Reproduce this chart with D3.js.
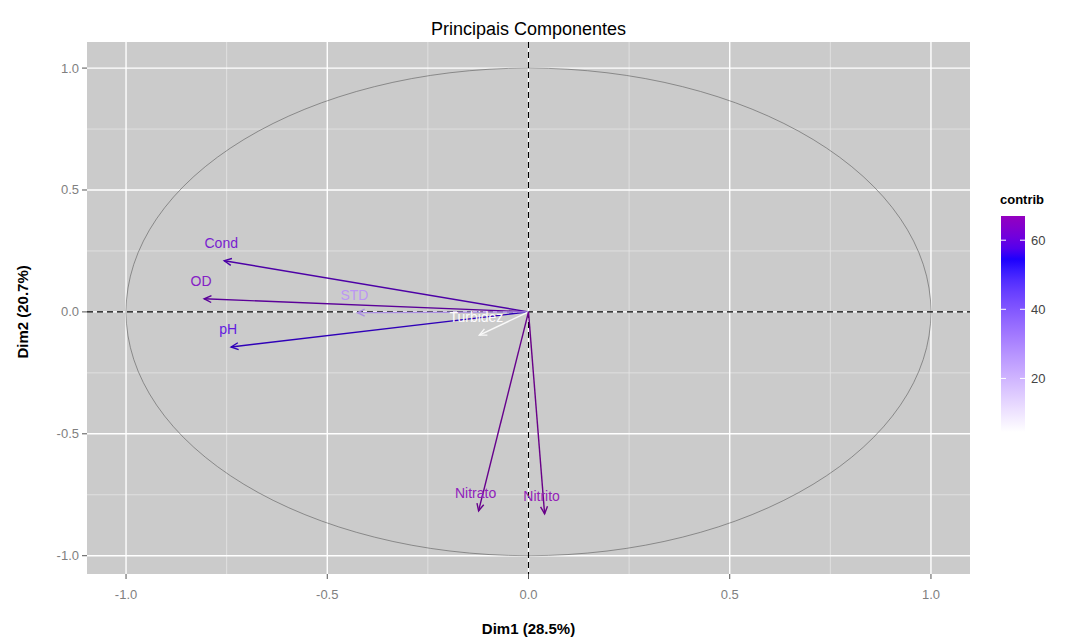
<!DOCTYPE html>
<html>
<head>
<meta charset="utf-8">
<script src="https://cdn.jsdelivr.net/npm/d3@7"></script>
<style>
  body { margin: 0; background: #fff; }
  svg { font-family: "Liberation Sans", Arial, sans-serif; }
</style>
</head>
<body>
<div id="chart"></div>
<script>
const WIDTH = 1080;
const HEIGHT = 641;

// --------------- Data ---------------
const variables = ["Cond", "OD", "pH", "STD", "Turbidez", "Nitrato", "Nitrito"];
const dim1 = [-0.756, -0.806, -0.739, -0.425, -0.122, -0.124, 0.040];
const dim2 = [0.210, 0.054, -0.144, -0.003, -0.095, -0.816, -0.828];
const contrib = [60, 63, 56, 24, 4.5, 66, 67];
const axisTicks = [-1.0, -0.5, 0.0, 0.5, 1.0];
const minorTicks = [-0.75, -0.25, 0.25, 0.75];
const legendTicks = [20, 40, 60];

const CONTRIB_RANGE = [4.5, 67];
const CONTRIB_MID = 54;

// --------------- Scales ---------------
const x = d3.scaleLinear().domain([-1.097, 1.097]).range([87, 970]);
const y = d3.scaleLinear().domain([-1.075, 1.107]).range([574, 42]);

// white -> blue -> red, diverging around the midpoint (Lab space, like ggplot)
const maxDist = Math.max(CONTRIB_MID - CONTRIB_RANGE[0], CONTRIB_RANGE[1] - CONTRIB_MID);
const color = d3.scaleLinear()
  .domain([CONTRIB_MID - maxDist, CONTRIB_MID, CONTRIB_MID + maxDist])
  .range(["white", "blue", "red"])
  .interpolate(d3.interpolateLab);

const svg = d3.select("#chart").append("svg")
  .attr("width", WIDTH)
  .attr("height", HEIGHT);

svg.append("rect").attr("width", WIDTH).attr("height", HEIGHT).attr("fill", "#fff");

// --------------- Panel ---------------
const [px0, px1] = x.range();
const [py1, py0] = y.range();

svg.append("rect")
  .attr("x", px0).attr("y", py0)
  .attr("width", px1 - px0).attr("height", py1 - py0)
  .attr("fill", "#cbcbcb");

const grid = svg.append("g");
minorTicks.forEach(t => {
  grid.append("line").attr("x1", x(t)).attr("x2", x(t)).attr("y1", py0).attr("y2", py1)
    .attr("stroke", "#e4e4e4").attr("stroke-width", 0.8);
  grid.append("line").attr("x1", px0).attr("x2", px1).attr("y1", y(t)).attr("y2", y(t))
    .attr("stroke", "#e4e4e4").attr("stroke-width", 0.8);
});
axisTicks.forEach(t => {
  grid.append("line").attr("x1", x(t)).attr("x2", x(t)).attr("y1", py0).attr("y2", py1)
    .attr("stroke", "#fff").attr("stroke-width", 1.4);
  grid.append("line").attr("x1", px0).attr("x2", px1).attr("y1", y(t)).attr("y2", y(t))
    .attr("stroke", "#fff").attr("stroke-width", 1.4);
});

// correlation circle
svg.append("ellipse")
  .attr("cx", x(0)).attr("cy", y(0))
  .attr("rx", x(1) - x(0)).attr("ry", y(0) - y(1))
  .attr("fill", "none").attr("stroke", "#5a5a5a").attr("stroke-width", 0.6);

// dashed reference lines
svg.append("line").attr("x1", x(0)).attr("x2", x(0)).attr("y1", py0).attr("y2", py1)
  .attr("stroke", "#000").attr("stroke-width", 1.1).attr("stroke-dasharray", "6,4");
svg.append("line").attr("x1", px0).attr("x2", px1).attr("y1", y(0)).attr("y2", y(0))
  .attr("stroke", "#000").attr("stroke-width", 1.1).attr("stroke-dasharray", "6,4");

// --------------- Arrows ---------------
const rows = variables.map((v, i) => ({ name: v, d1: dim1[i], d2: dim2[i], c: contrib[i] }));

const arrows = svg.append("g");
rows.forEach(d => {
  const x0 = x(0), y0 = y(0), x1 = x(d.d1), y1 = y(d.d2);
  // thin lines read darker than the fill colour in the reference
  const col = d3.color(color(d.c)).darker(d.c / 70).formatHex();
  const ang = Math.atan2(y1 - y0, x1 - x0);
  const head = 8, spread = Math.PI / 7;
  arrows.append("line")
    .attr("x1", x0).attr("y1", y0).attr("x2", x1).attr("y2", y1)
    .attr("stroke", col).attr("stroke-width", 1.4);
  arrows.append("path")
    .attr("d", `M${x1 - head * Math.cos(ang - spread)},${y1 - head * Math.sin(ang - spread)}L${x1},${y1}L${x1 - head * Math.cos(ang + spread)},${y1 - head * Math.sin(ang + spread)}`)
    .attr("fill", "none").attr("stroke", col).attr("stroke-width", 1.4);
});

svg.append("g")
  .selectAll("text")
  .data(rows)
  .enter()
  .append("text")
  .attr("x", d => x(d.d1) - 3)
  .attr("y", d => y(d.d2) - 18)
  .attr("text-anchor", "middle")
  .attr("dominant-baseline", "central")
  .attr("font-size", 14)
  .attr("fill", d => d3.interpolateLab(color(d.c), "#9040a8")(d.c / 200))
  .text(d => d.name);

// --------------- Axes ---------------
const axes = svg.append("g").attr("fill", "#7f7f7f").attr("font-size", 13);
axisTicks.forEach(t => {
  axes.append("line").attr("x1", x(t)).attr("x2", x(t)).attr("y1", py1).attr("y2", py1 + 5)
    .attr("stroke", "#555").attr("stroke-width", 1);
  axes.append("text").attr("x", x(t)).attr("y", py1 + 20)
    .attr("text-anchor", "middle").attr("dominant-baseline", "central")
    .text(t.toFixed(1));
  axes.append("line").attr("x1", px0 - 5).attr("x2", px0).attr("y1", y(t)).attr("y2", y(t))
    .attr("stroke", "#555").attr("stroke-width", 1);
  axes.append("text").attr("x", px0 - 8).attr("y", y(t))
    .attr("text-anchor", "end").attr("dominant-baseline", "central")
    .text(t.toFixed(1));
});

svg.append("text")
  .attr("x", x(0)).attr("y", 628)
  .attr("text-anchor", "middle").attr("dominant-baseline", "central")
  .attr("font-size", 15).attr("font-weight", "bold")
  .text("Dim1 (28.5%)");

svg.append("text")
  .attr("transform", `translate(22,${y(0)}) rotate(-90)`)
  .attr("text-anchor", "middle").attr("dominant-baseline", "central")
  .attr("font-size", 15).attr("font-weight", "bold")
  .text("Dim2 (20.7%)");

svg.append("text")
  .attr("x", x(0)).attr("y", 29)
  .attr("text-anchor", "middle").attr("dominant-baseline", "central")
  .attr("font-size", 18)
  .text("Principais Componentes");

// --------------- Legend ---------------
const LEG_X = 1001, LEG_W = 24, LEG_TOP = 216, LEG_BOT = 432;
const ly = d3.scaleLinear().domain(CONTRIB_RANGE).range([LEG_BOT, LEG_TOP]);

const grad = svg.append("defs").append("linearGradient")
  .attr("id", "contribGrad").attr("x1", 0).attr("x2", 0).attr("y1", 1).attr("y2", 0);
d3.range(0, 1.0001, 0.05).forEach(f => {
  const v = CONTRIB_RANGE[0] + f * (CONTRIB_RANGE[1] - CONTRIB_RANGE[0]);
  grad.append("stop").attr("offset", f).attr("stop-color", color(v));
});

svg.append("text")
  .attr("x", LEG_X - 1).attr("y", 199)
  .attr("font-size", 13).attr("font-weight", "bold")
  .attr("dominant-baseline", "central")
  .text("contrib");

svg.append("rect")
  .attr("x", LEG_X).attr("y", LEG_TOP)
  .attr("width", LEG_W).attr("height", LEG_BOT - LEG_TOP)
  .attr("fill", "url(#contribGrad)");

legendTicks.forEach(t => {
  svg.append("line").attr("x1", LEG_X).attr("x2", LEG_X + 5).attr("y1", ly(t)).attr("y2", ly(t))
    .attr("stroke", "#fff").attr("stroke-width", 1);
  svg.append("line").attr("x1", LEG_X + LEG_W - 5).attr("x2", LEG_X + LEG_W).attr("y1", ly(t)).attr("y2", ly(t))
    .attr("stroke", "#fff").attr("stroke-width", 1);
  svg.append("text").attr("x", LEG_X + LEG_W + 6).attr("y", ly(t))
    .attr("font-size", 13).attr("fill", "#444").attr("dominant-baseline", "central")
    .text(t);
});
</script>
</body>
</html>
